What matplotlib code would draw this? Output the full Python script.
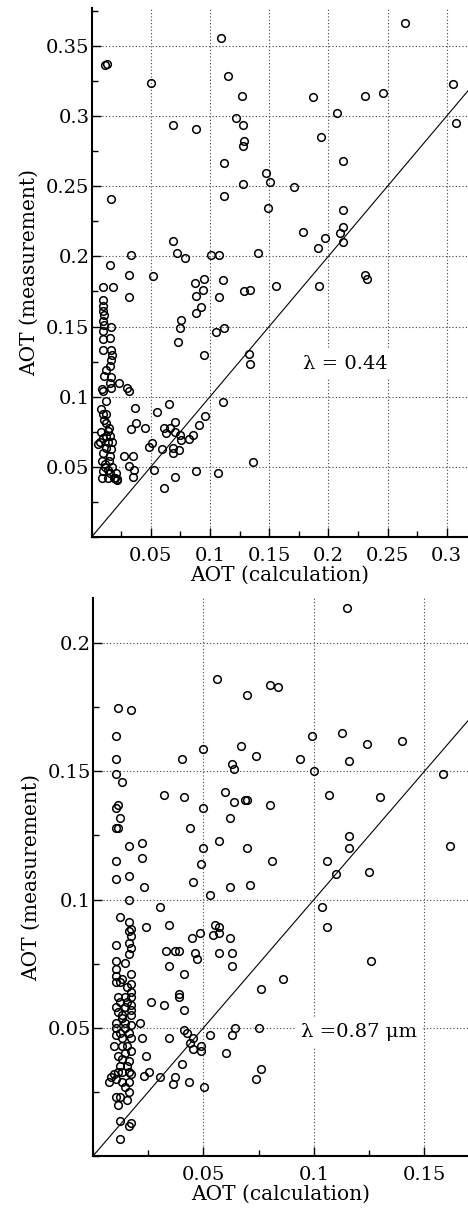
import numpy as np
import matplotlib
matplotlib.use("Agg")
import matplotlib.pyplot as plt
from matplotlib.ticker import MultipleLocator, FixedLocator, FormatStrFormatter

plt.rcParams['font.family'] = ['DejaVu Serif']

# ---- lambda = 0.44 (top panel), calculated vs measured AOT ----
calc_044 = [
    0.265, 0.1097, 0.011, 0.0128, 0.0506, 0.1153, 0.1271, 0.1874, 0.2307, 0.2465,
    0.305, 0.3082, 0.2077, 0.0691, 0.0883, 0.1221, 0.128, 0.1291, 0.128, 0.1936,
    0.2125, 0.112, 0.1477, 0.1508, 0.128, 0.1713, 0.0165, 0.112, 0.1488, 0.2125,
    0.1784, 0.2125, 0.2102, 0.2125, 0.1973, 0.1916, 0.0684, 0.0719, 0.0793, 0.0334,
    0.1007, 0.1077, 0.1406, 0.0154, 0.0317, 0.0522, 0.0872, 0.0953, 0.1111, 0.0945,
    0.0883, 0.1291, 0.1339, 0.1558, 0.1924, 0.2307, 0.2324, 0.0097, 0.0185, 0.0314,
    0.1077, 0.0925, 0.0883, 0.0756, 0.0748, 0.0734, 0.1052, 0.1122, 0.0953, 0.1328,
    0.1339, 0.1111, 0.0956, 0.0908, 0.086, 0.082, 0.0748, 0.0756, 0.074, 0.0703,
    0.0653, 0.0551, 0.0365, 0.0373, 0.0334, 0.045, 0.0608, 0.0627, 0.0663, 0.0706,
    0.0509, 0.0483, 0.0593, 0.0691, 0.0691, 0.0275, 0.0348, 0.0314, 0.0348, 0.0357,
    0.0531, 0.0703, 0.0883, 0.1069, 0.1367, 0.0613, 0.0235, 0.030, 0.0314, 0.0218,
    0.019,
    # dense column near the y axis
    0.0095, 0.0095, 0.0095, 0.0105, 0.0095, 0.0105, 0.0167, 0.0099, 0.0095, 0.0158,
    0.0095, 0.0167, 0.0172, 0.0167, 0.0153, 0.0104, 0.0167, 0.0153, 0.0092, 0.0162,
    0.0095, 0.0125, 0.0083, 0.0097, 0.0105, 0.0125, 0.0145, 0.0082, 0.0139, 0.0153,
    0.0097, 0.0069, 0.0139, 0.0125, 0.0167, 0.0097, 0.0153, 0.0089, 0.0145, 0.0111,
    0.0172, 0.0097, 0.0153, 0.0209, 0.0139, 0.0195, 0.0089, 0.0218, 0.0058, 0.012,
    0.014, 0.011, 0.017, 0.012, 0.0125,
]
meas_044 = [
    0.366, 0.3555, 0.3367, 0.3374, 0.3236, 0.3283, 0.3143, 0.3133, 0.3145, 0.3167,
    0.3226, 0.2952, 0.3024, 0.2933, 0.2905, 0.2983, 0.2933, 0.2824, 0.2783, 0.2852,
    0.2683, 0.2664, 0.2593, 0.2533, 0.2514, 0.2493, 0.2412, 0.2433, 0.2343, 0.2331,
    0.2171, 0.2212, 0.2164, 0.2102, 0.2131, 0.2062, 0.2112, 0.2021, 0.199, 0.2012,
    0.201, 0.201, 0.2021, 0.194, 0.1869, 0.186, 0.1812, 0.184, 0.1831, 0.176,
    0.1721, 0.1752, 0.1762, 0.179, 0.179, 0.1869, 0.184, 0.1781, 0.1781, 0.1712,
    0.1712, 0.164, 0.160, 0.1548, 0.149, 0.139, 0.1462, 0.149, 0.130, 0.1307,
    0.1231, 0.096, 0.086, 0.080, 0.0729, 0.0698, 0.0724, 0.0688, 0.0619, 0.0817,
    0.095, 0.089, 0.0919, 0.081, 0.0769, 0.0776, 0.0776, 0.0738, 0.0776, 0.0752,
    0.0671, 0.064, 0.0629, 0.0636, 0.060, 0.0579, 0.0579, 0.0505, 0.0429, 0.0476,
    0.0479, 0.0429, 0.0469, 0.0457, 0.0536, 0.0348, 0.110, 0.106, 0.104, 0.0409,
    0.042,
    0.1686, 0.1643, 0.161, 0.158, 0.1538, 0.1514, 0.1495, 0.1467, 0.1412, 0.142,
    0.1336, 0.1336, 0.130, 0.126, 0.122, 0.115, 0.114, 0.110, 0.1057, 0.106,
    0.104, 0.097, 0.0912, 0.0876, 0.0833, 0.0816, 0.078, 0.0745, 0.0757, 0.0721,
    0.0709, 0.0674, 0.0674, 0.0638, 0.0626, 0.0602, 0.0579, 0.0543, 0.0543, 0.050,
    0.050, 0.0471, 0.0459, 0.0459, 0.0424, 0.0424, 0.0424, 0.0412, 0.066, 0.072,
    0.048, 0.052, 0.068, 0.088, 0.119,
]

# ---- lambda = 0.87 um (bottom panel) ----
calc_087 = [
    0.1149, 0.056, 0.0699, 0.0799, 0.0839, 0.0112, 0.0173, 0.0102, 0.0989, 0.1128,
    0.1238, 0.1397, 0.050, 0.0669, 0.0739, 0.0402, 0.0939, 0.1158, 0.0102, 0.063,
    0.064, 0.0998, 0.1586, 0.0102, 0.0132, 0.0321, 0.0411, 0.0599, 0.064, 0.0689,
    0.0699, 0.0799, 0.1069, 0.1298, 0.050, 0.0102, 0.0112, 0.0123, 0.0621, 0.0102,
    0.0112, 0.0441, 0.1158, 0.057, 0.0162, 0.0223, 0.050, 0.0699, 0.1158, 0.1617,
    0.0102, 0.0223, 0.0489, 0.0811, 0.106, 0.110, 0.1248, 0.0102, 0.0162, 0.0232,
    0.0451, 0.0621, 0.071, 0.053, 0.0162,
    0.0303, 0.1038, 0.106, 0.1259, 0.086, 0.0761, 0.012, 0.0162, 0.0173, 0.0162,
    0.0173, 0.0162, 0.0173, 0.0162, 0.0102, 0.0242, 0.0343, 0.055, 0.0571, 0.0571,
    0.0541, 0.0482, 0.045, 0.0621, 0.0331, 0.0372, 0.0391, 0.0461, 0.0471, 0.0571,
    0.0631, 0.0631, 0.0343, 0.0411, 0.0263, 0.032, 0.0391, 0.0391, 0.0411, 0.0211,
    0.0411, 0.0425, 0.0452, 0.0441, 0.0452, 0.049, 0.049, 0.0343, 0.0223, 0.053,
    0.0631, 0.0642, 0.075, 0.0601, 0.0242, 0.0402, 0.0252, 0.0231, 0.0303, 0.0372,
    0.0361, 0.0434, 0.0502, 0.0739, 0.0761, 0.012, 0.0162, 0.0173, 0.012, 0.0071,
    # dense column near the y axis
    0.0102, 0.0143, 0.0102, 0.0102, 0.0132, 0.0173, 0.0102, 0.0121, 0.0173, 0.0153,
    0.0173, 0.0111, 0.0143, 0.0173, 0.0121, 0.0153, 0.0173, 0.0102, 0.0143, 0.0173,
    0.0111, 0.0132, 0.0173, 0.0132, 0.0102, 0.0143, 0.0173, 0.0102, 0.0121, 0.0143,
    0.0162, 0.0102, 0.0132, 0.0173, 0.0093, 0.0132, 0.0153, 0.0173, 0.0143, 0.0111,
    0.0132, 0.0162, 0.0121, 0.0153, 0.0093, 0.0111, 0.0132, 0.0162, 0.0173, 0.0081,
    0.0102, 0.0132, 0.0162, 0.0143, 0.0162, 0.0102, 0.0121, 0.0153, 0.0111,
]
meas_087 = [
    0.2138, 0.1858, 0.1799, 0.1838, 0.1829, 0.1748, 0.1739, 0.1639, 0.1639, 0.1648,
    0.1608, 0.1618, 0.1588, 0.1599, 0.1558, 0.1548, 0.1548, 0.1539, 0.1548, 0.1529,
    0.1508, 0.1501, 0.1490, 0.1488, 0.1458, 0.1409, 0.1399, 0.1418, 0.1379, 0.1388,
    0.1388, 0.1369, 0.1409, 0.1399, 0.1358, 0.1358, 0.1368, 0.1318, 0.1318, 0.1279,
    0.1279, 0.1279, 0.1249, 0.123, 0.1209, 0.1219, 0.1199, 0.1199, 0.1199, 0.1209,
    0.1149, 0.116, 0.1139, 0.1149, 0.1149, 0.1099, 0.1108, 0.1079, 0.109, 0.1049,
    0.1069, 0.1049, 0.1058, 0.1018, 0.0999,
    0.0971, 0.0971, 0.0892, 0.0761, 0.0691, 0.065, 0.0933, 0.0911, 0.0885, 0.0876,
    0.0856, 0.083, 0.0811, 0.0789, 0.0822, 0.0892, 0.0901, 0.0901, 0.0892, 0.087,
    0.086, 0.0871, 0.0851, 0.0851, 0.080, 0.080, 0.080, 0.0791, 0.0769, 0.0791,
    0.0791, 0.074, 0.074, 0.071, 0.060, 0.059, 0.063, 0.062, 0.0569, 0.052,
    0.049, 0.048, 0.0461, 0.0439, 0.0419, 0.0428, 0.041, 0.0461, 0.0461, 0.047,
    0.047, 0.050, 0.050, 0.040, 0.039, 0.0359, 0.0329, 0.0311, 0.0309, 0.0309,
    0.0279, 0.0289, 0.0269, 0.0299, 0.0339, 0.0138, 0.0117, 0.0128, 0.0068, 0.0289,
    0.0761, 0.0752, 0.073, 0.070, 0.0691, 0.071, 0.068, 0.068, 0.067, 0.066,
    0.0641, 0.0621, 0.0621, 0.0621, 0.060, 0.060, 0.059, 0.058, 0.058, 0.0569,
    0.056, 0.055, 0.055, 0.054, 0.052, 0.052, 0.0509, 0.050, 0.048, 0.050,
    0.048, 0.047, 0.0461, 0.0461, 0.0429, 0.0429, 0.0429, 0.041, 0.040, 0.039,
    0.038, 0.0369, 0.035, 0.035, 0.032, 0.0329, 0.0329, 0.0329, 0.032, 0.0308,
    0.0299, 0.0289, 0.0289, 0.0269, 0.0249, 0.023, 0.023, 0.0219, 0.020,
]

label_044 = "λ = 0.44"
label_087 = "λ =0.87 μm"


def draw_panel(ax, calc, meas, xmax, ymax, xticks, yticks, note, note_xy):
    ax.plot([0, 1], [0, 1], color='black', lw=0.8, zorder=2)
    ax.plot(calc, meas, 'o', ms=5.5, mfc='none', mec='black', mew=1.1, zorder=3,
            clip_on=False)
    ax.set_xlim(0, xmax)
    ax.set_ylim(0, ymax)
    ax.xaxis.set_major_locator(FixedLocator(xticks))
    ax.yaxis.set_major_locator(FixedLocator(yticks))
    ax.xaxis.set_minor_locator(MultipleLocator(0.025))
    ax.yaxis.set_minor_locator(MultipleLocator(0.025))
    ax.xaxis.set_major_formatter(FormatStrFormatter('%g'))
    ax.yaxis.set_major_formatter(FormatStrFormatter('%g'))
    ax.tick_params(which='both', direction='in', width=1, labelsize=14)
    ax.tick_params(which='major', length=6.5)
    ax.tick_params(which='minor', length=4.5)
    ax.tick_params(axis='x', pad=7)
    ax.tick_params(axis='y', pad=1.5)
    ax.grid(True, which='major', linestyle=(0, (1, 2)), color='0.25', lw=0.8)
    for s in ['top', 'right']:
        ax.spines[s].set_visible(False)
    for s in ['left', 'bottom']:
        ax.spines[s].set_linewidth(1.5)
    ax.set_xlabel("AOT (calculation)", fontsize=14.5, labelpad=1)
    ax.set_ylabel("AOT (measurement)", fontsize=14.5, labelpad=5)
    ax.text(note_xy[0], note_xy[1], note, fontsize=14, ha='center', va='center',
            zorder=4, bbox=dict(facecolor='white', edgecolor='none', pad=4))


fig = plt.figure(figsize=(4.68, 12.09), dpi=100)
ax1 = fig.add_axes([0.1957, 0.5558, 0.8043, 0.4376])
ax2 = fig.add_axes([0.1987, 0.0438, 0.8013, 0.4615])

draw_panel(ax1, calc_044, meas_044, 0.318, 0.377,
           [0.05, 0.1, 0.15, 0.2, 0.25, 0.3],
           [0.05, 0.1, 0.15, 0.2, 0.25, 0.3, 0.35],
           label_044, (0.214, 0.1236))
draw_panel(ax2, calc_087, meas_087, 0.1697, 0.2175,
           [0.05, 0.1, 0.15],
           [0.05, 0.1, 0.15, 0.2],
           label_087, (0.1204, 0.0484))

fig.savefig("out.png", dpi=100)
